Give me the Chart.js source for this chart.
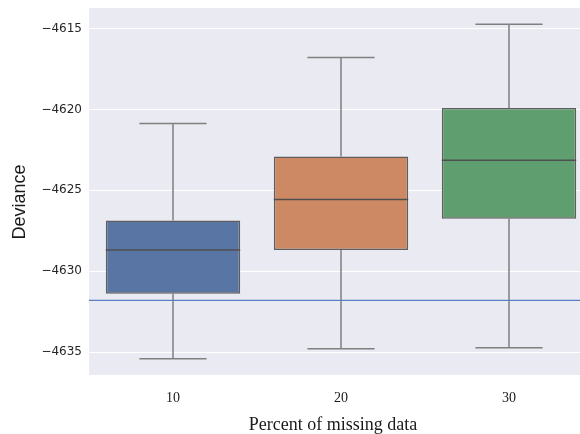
<!DOCTYPE html>
<html>
<head>
<meta charset="utf-8">
<script src="https://cdn.jsdelivr.net/npm/chart.js@4"></script>
<style>
  html, body { margin: 0; padding: 0; background: #ffffff; overflow: hidden; }
  #wrap { width: 610px; height: 434px; }
</style>
</head>
<body>
<div id="wrap"><canvas id="chart" width="610" height="434"></canvas></div>
<script>
// Deviance by percentage of missing data: box summaries per group
const categories = ['10', '20', '30'];
const whiskerLow = [-4635.41, -4634.79, -4634.73];
const q1 = [-4631.40, -4628.69, -4626.75];
const median = [-4628.69, -4625.57, -4623.13];
const q3 = [-4626.86, -4622.91, -4619.90];
const whiskerHigh = [-4620.87, -4616.78, -4614.73];
const referenceLine = -4631.81;
const yTicks = [-4635, -4630, -4625, -4620, -4615];
const yMin = -4636.42;
const yMax = -4613.72;
const xTitle = 'Percent of missing data';
const yTitle = 'Deviance';

const boxColors = ['#5875a4', '#cc8963', '#5f9e6e'];
const edgeColor = '#5e5e5e';
const whiskerColor = '#808080';

// Shaded plotting area behind the grid
const panelBackground = {
  id: 'panelBackground',
  beforeDraw(chart) {
    const { ctx, chartArea: a } = chart;
    ctx.save();
    ctx.fillStyle = '#eaeaf2';
    ctx.fillRect(a.left, a.top, a.right - a.left, a.bottom - a.top);
    ctx.restore();
  }
};

// Whiskers and caps behind the boxes, medians and reference line on top
const boxParts = {
  id: 'boxParts',
  beforeDatasetsDraw(chart) {
    const { ctx } = chart;
    const y = chart.scales.y;
    const meta = chart.getDatasetMeta(0);
    ctx.save();
    ctx.strokeStyle = whiskerColor;
    ctx.lineWidth = 1.5;
    meta.data.forEach((bar, i) => {
      const cx = bar.x;
      const half = bar.width / 4;
      const yLo = y.getPixelForValue(whiskerLow[i]);
      const yHi = y.getPixelForValue(whiskerHigh[i]);
      const yQ1 = y.getPixelForValue(q1[i]);
      const yQ3 = y.getPixelForValue(q3[i]);
      ctx.beginPath();
      ctx.moveTo(cx, yQ1); ctx.lineTo(cx, yLo);
      ctx.moveTo(cx, yQ3); ctx.lineTo(cx, yHi);
      ctx.moveTo(cx - half, yLo); ctx.lineTo(cx + half, yLo);
      ctx.moveTo(cx - half, yHi); ctx.lineTo(cx + half, yHi);
      ctx.stroke();
    });
    ctx.restore();
  },
  afterDatasetsDraw(chart) {
    const { ctx, chartArea: a } = chart;
    const y = chart.scales.y;
    const meta = chart.getDatasetMeta(0);
    ctx.save();
    ctx.strokeStyle = '#4f4f4f';
    ctx.lineWidth = 1.5;
    meta.data.forEach((bar, i) => {
      const ym = y.getPixelForValue(median[i]);
      ctx.beginPath();
      ctx.moveTo(bar.x - bar.width / 2, ym);
      ctx.lineTo(bar.x + bar.width / 2, ym);
      ctx.stroke();
    });
    const yr = y.getPixelForValue(referenceLine);
    ctx.strokeStyle = '#5a7fc2';
    ctx.lineWidth = 1.3;
    ctx.beginPath();
    ctx.moveTo(a.left, yr);
    ctx.lineTo(a.right, yr);
    ctx.stroke();
    ctx.restore();
  }
};

// Axis titles, placed a little off the panel centre
const axisTitles = {
  id: 'axisTitles',
  afterDraw(chart) {
    const { ctx } = chart;
    ctx.save();
    ctx.fillStyle = '#1a1a1a';
    ctx.textAlign = 'center';
    ctx.textBaseline = 'middle';
    ctx.font = '18px "Liberation Serif", "Times New Roman", serif';
    ctx.fillText(xTitle, 333, 425);
    ctx.translate(20, 202);
    ctx.rotate(-Math.PI / 2);
    ctx.font = '18px "Liberation Sans", Arial, sans-serif';
    ctx.fillText(yTitle, 0, 0);
    ctx.restore();
  }
};

new Chart(document.getElementById('chart'), {
  type: 'bar',
  data: {
    labels: categories,
    datasets: [{
      data: q1.map((v, i) => [v, q3[i]]),
      backgroundColor: boxColors,
      borderColor: edgeColor,
      borderWidth: 1.5,
      borderSkipped: false,
      barPercentage: 0.8,
      categoryPercentage: 1.0
    }]
  },
  options: {
    responsive: false,
    animation: false,
    layout: { padding: { left: 0, top: 8, right: 17, bottom: 0 } },
    plugins: { legend: { display: false }, tooltip: { enabled: false } },
    scales: {
      x: {
        grid: { display: false },
        border: { display: false },
        ticks: {
          color: '#1a1a1a',
          padding: 7,
          font: { family: '"Liberation Serif", "Times New Roman", serif', size: 14 }
        },
        afterFit(scale) { scale.height = 59; }
      },
      y: {
        min: yMin,
        max: yMax,
        grid: { color: '#ffffff', lineWidth: 1, drawTicks: false },
        border: { display: false },
        afterBuildTicks(scale) { scale.ticks = yTicks.map(v => ({ value: v })); },
        ticks: {
          color: '#262626',
          padding: 7,
          font: { family: '"DejaVu Sans", sans-serif', size: 12 },
          callback: v => (v < 0 ? '\u2212' : '') + Math.abs(v)
        },
        afterFit(scale) {
          scale.width = 89;
          scale.paddingTop = 0;
          scale.paddingBottom = 0;
        }
      }
    }
  },
  plugins: [panelBackground, boxParts, axisTitles]
});
</script>
</body>
</html>
